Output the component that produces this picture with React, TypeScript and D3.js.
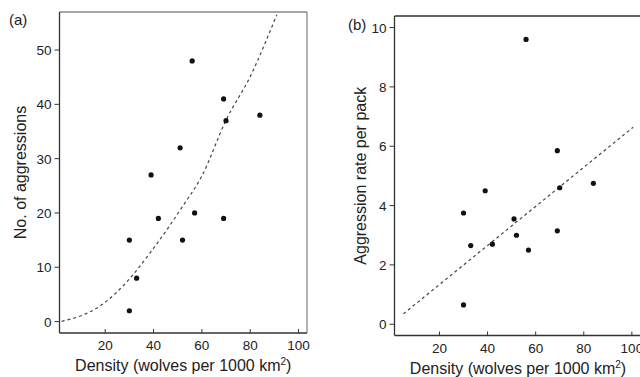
import React, { useEffect, useRef } from 'react';
import * as d3 from 'd3';

// Wolf density (wolves per 1000 km2) per pack
const density = [56, 69, 70, 84, 51, 39, 42, 57, 69, 30, 52, 33, 30];
// (a) number of aggressions
const aggressions = [48, 41, 37, 38, 32, 27, 19, 20, 19, 15, 15, 8, 2];
// (b) aggression rate per pack (same packs, own order)
const rateDensity = [56, 69, 70, 84, 39, 30, 51, 52, 69, 33, 42, 57, 30];
const ratePerPack = [9.6, 5.85, 4.6, 4.75, 4.5, 3.75, 3.55, 3.0, 3.15, 2.65, 2.7, 2.5, 0.65];

// fitted curve in (a)
const fitAX = [2, 11, 18, 25, 32, 38.5, 45.5, 52, 60, 70, 80, 91];
const fitAY = [0.05, 1.25, 2.9, 5.5, 8.9, 12.6, 16.9, 21.2, 26.8, 37.1, 45.1, 56.5];
// fitted line in (b)
const fitBX = [5, 100.5];
const fitBY = [0.35, 6.64];

const xTicks = [20, 40, 60, 80, 100];
const yTicksA = [0, 10, 20, 30, 40, 50];
const yTicksB = [0, 2, 4, 6, 8, 10];

const FONT = 'Liberation Sans, Arial, Helvetica, sans-serif';
const INK = '#222';

interface PanelSpec {
  tag: string;
  left: number;
  top: number;
  right: number;
  bottom: number;
  xDomain: [number, number];
  yDomain: [number, number];
  yTicks: number[];
  yTitle: string;
  xs: number[];
  ys: number[];
  fx: number[];
  fy: number[];
  tagX: number;
  tagY: number;
  yTitleX: number;
  tickLabelY: number;
  xTitleY: number;
  topStroke: string;
}

function drawPanel(root: d3.Selection<SVGSVGElement, unknown, null, undefined>, p: PanelSpec) {
  const x = d3.scaleLinear().domain(p.xDomain).range([p.left, p.right]);
  const y = d3.scaleLinear().domain(p.yDomain).range([p.bottom, p.top]);
  const g = root.append('g');

  // box
  g.append('line').attr('x1', p.left).attr('x2', p.right).attr('y1', p.top).attr('y2', p.top)
    .attr('stroke', p.topStroke).attr('stroke-width', 1.3);
  g.append('line').attr('x1', p.right).attr('x2', p.right).attr('y1', p.top).attr('y2', p.bottom)
    .attr('stroke', '#888').attr('stroke-width', 1.3);
  g.append('line').attr('x1', p.left).attr('x2', p.left).attr('y1', p.top).attr('y2', p.bottom)
    .attr('stroke', '#333').attr('stroke-width', 1.3);
  g.append('line').attr('x1', p.left).attr('x2', p.right).attr('y1', p.bottom).attr('y2', p.bottom)
    .attr('stroke', '#333').attr('stroke-width', 1.3);

  // x ticks (inward)
  g.selectAll('.xt').data(xTicks).enter().append('line')
    .attr('x1', d => x(d)).attr('x2', d => x(d))
    .attr('y1', p.bottom).attr('y2', p.bottom - 4)
    .attr('stroke', '#333').attr('stroke-width', 1);
  g.selectAll('.xl').data(xTicks).enter().append('text')
    .attr('x', d => x(d)).attr('y', p.tickLabelY)
    .attr('text-anchor', 'middle').attr('font-size', 13.5).attr('font-family', FONT).attr('fill', INK)
    .text(d => d);

  // y ticks (outward)
  g.selectAll('.yt').data(p.yTicks).enter().append('line')
    .attr('x1', p.left).attr('x2', p.left - 5)
    .attr('y1', d => y(d)).attr('y2', d => y(d))
    .attr('stroke', '#333').attr('stroke-width', 1);
  g.selectAll('.yl').data(p.yTicks).enter().append('text')
    .attr('x', p.left - 8).attr('y', d => y(d) + 5)
    .attr('text-anchor', 'end').attr('font-size', 13.5).attr('font-family', FONT).attr('fill', INK)
    .text(d => d);

  // fitted line
  const line = d3.line<number>()
    .x((_, i) => x(p.fx[i]))
    .y(d => y(d))
    .curve(d3.curveMonotoneX);
  g.append('path').attr('d', line(p.fy)!)
    .attr('fill', 'none').attr('stroke', '#444').attr('stroke-width', 1.2)
    .attr('stroke-dasharray', '3,3');

  // points
  g.selectAll('.pt').data(p.ys).enter().append('circle')
    .attr('cx', (_, i) => x(p.xs[i])).attr('cy', d => y(d)).attr('r', 2.6)
    .attr('fill', '#111');

  // titles
  const xt = g.append('text')
    .attr('x', (p.left + p.right) / 2).attr('y', p.xTitleY)
    .attr('text-anchor', 'middle').attr('font-size', 16).attr('font-family', FONT).attr('fill', INK);
  xt.append('tspan').text('Density (wolves per 1000 km');
  xt.append('tspan').attr('font-size', 10).attr('dy', -6).text('2');
  xt.append('tspan').attr('dy', 6).text(')');

  const cy = (p.top + p.bottom) / 2;
  g.append('text')
    .attr('transform', `translate(${p.yTitleX}, ${cy}) rotate(-90)`)
    .attr('text-anchor', 'middle').attr('font-size', 16).attr('font-family', FONT).attr('fill', INK)
    .text(p.yTitle);

  g.append('text')
    .attr('x', p.tagX).attr('y', p.tagY)
    .attr('font-size', 15).attr('font-family', FONT).attr('fill', INK)
    .text(p.tag);
}

export default function App() {
  const svgRef = useRef<SVGSVGElement>(null);

  useEffect(() => {
    if (!svgRef.current) return;
    const root = d3.select(svgRef.current);
    root.selectAll('*').remove();

    drawPanel(root, {
      tag: '(a)', left: 59.5, top: 12, right: 307, bottom: 333,
      xDomain: [1.1, 103.5], yDomain: [-2.1, 57],
      yTicks: yTicksA, yTitle: 'No. of aggressions',
      xs: density, ys: aggressions, fx: fitAX, fy: fitAY,
      tagX: 9, tagY: 25, yTitleX: 26, tickLabelY: 350, xTitleY: 371,
      topStroke: '#888',
    });

    drawPanel(root, {
      tag: '(b)', left: 394.5, top: 16, right: 641.5, bottom: 335.5,
      xDomain: [1.3, 104], yDomain: [-0.38, 10.39],
      yTicks: yTicksB, yTitle: 'Aggression rate per pack',
      xs: rateDensity, ys: ratePerPack, fx: fitBX, fy: fitBY,
      tagX: 348, tagY: 30, yTitleX: 366, tickLabelY: 353, xTitleY: 374,
      topStroke: '#333',
    });
  }, []);

  return (
    <svg
      ref={svgRef}
      width={640}
      height={377}
      style={{ position: 'absolute', left: 0, top: 0, background: '#fff' }}
    />
  );
}
